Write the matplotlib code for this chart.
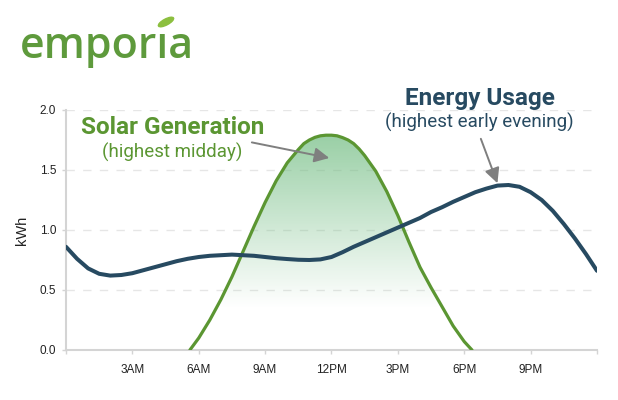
import numpy as np
import matplotlib
matplotlib.use("Agg")
import matplotlib.pyplot as plt
from matplotlib.patches import Ellipse, Polygon
from matplotlib.colors import LinearSegmentedColormap
from matplotlib.transforms import IdentityTransform

# energy usage, read every half hour (kWh)
usage_hours = np.arange(0, 24.5, 0.5)
usage = [0.86, 0.76, 0.68, 0.635, 0.62, 0.625, 0.64, 0.665, 0.69, 0.715,
         0.74, 0.76, 0.775, 0.785, 0.79, 0.795, 0.79, 0.785, 0.775, 0.765,
         0.758, 0.752, 0.75, 0.755, 0.775, 0.815, 0.86, 0.90, 0.94, 0.98,
         1.02, 1.06, 1.10, 1.15, 1.19, 1.235, 1.275, 1.315, 1.345, 1.37,
         1.375, 1.36, 1.315, 1.25, 1.16, 1.05, 0.93, 0.80, 0.66]

# solar generation (kWh)
solar_hours = [5.6, 6.0, 6.5, 7.0, 7.5, 8.0, 8.5, 9.0, 9.5, 10.0, 10.5, 10.75,
               11.0, 11.25, 11.5, 11.75, 12.0, 12.25, 12.5, 12.75, 13.0, 13.25,
               13.5, 14.0, 14.5, 15.0, 15.5, 16.0, 16.5, 17.0, 17.5, 18.0, 18.35]
solar = [0.0, 0.10, 0.25, 0.42, 0.61, 0.82, 1.03, 1.23, 1.41, 1.56, 1.67, 1.72,
         1.75, 1.772, 1.785, 1.79, 1.79, 1.785, 1.77, 1.75, 1.72, 1.675,
         1.62, 1.49, 1.32, 1.12, 0.90, 0.69, 0.52, 0.36, 0.20, 0.07, 0.0]

tick_hours = [0, 3, 6, 9, 12, 15, 18, 21, 24]
tick_labels = ["", "3AM", "6AM", "9AM", "12PM", "3PM", "6PM", "9PM", ""]

GREEN = "#5b9632"
NAVY = "#274a61"
GREY = "#d4d4d4"

fig = plt.figure(figsize=(6.18, 4.0), dpi=100)
ax = fig.add_axes([66 / 618, 50 / 400, 531 / 618, 240 / 400])

# gradient fill under the solar curve
cmap = LinearSegmentedColormap.from_list(
    "fade", [(0.47, 0.75, 0.53, 0.0), (0.47, 0.75, 0.53, 0.75)])
grad = np.clip((np.linspace(0, 1.8, 200) - 0.35) / 1.45, 0, 1).reshape(-1, 1)
img = ax.imshow(grad, cmap=cmap, vmin=0, vmax=1, origin="lower",
                extent=[solar_hours[0], solar_hours[-1], 0, 1.8],
                aspect="auto", zorder=1)
clip = Polygon(np.column_stack([solar_hours, solar]), closed=True,
               transform=ax.transData, facecolor="none", edgecolor="none")
ax.add_patch(clip)
img.set_clip_path(clip)

ax.plot(solar_hours, solar, color=GREEN, lw=2.3, zorder=3,
        solid_capstyle="round", solid_joinstyle="round")
ax.plot(usage_hours, usage, color=NAVY, lw=2.9, zorder=4,
        solid_capstyle="round", solid_joinstyle="round")

ax.set_xlim(0, 24)
ax.set_ylim(0, 2.0)
ax.set_xticks(tick_hours)
ax.set_xticklabels(tick_labels, fontsize=8.5, family="Liberation Sans",
                   color="#222222")
ax.set_yticks([0, 0.5, 1.0, 1.5, 2.0])
ax.set_yticklabels(["0.0", "0.5", "1.0", "1.5", "2.0"], fontsize=8.5,
                   family="Liberation Sans", color="#222222")
ax.tick_params(axis="both", length=3, width=1, color=GREY, pad=4)
ax.tick_params(axis="x", pad=7)
ax.set_ylabel("kWh", fontsize=10.5, family="Liberation Sans", color="#222222",
              labelpad=8)
for s in ["top", "right"]:
    ax.spines[s].set_visible(False)
for s in ["left", "bottom"]:
    ax.spines[s].set_color(GREY)
    ax.spines[s].set_linewidth(1.5)
ax.set_axisbelow(True)
ax.yaxis.grid(True, color="#e6e6e6", lw=1, dashes=(6, 6))
ax.patch.set_alpha(0)

# annotations
ax.text(4.8, 1.855, "Solar Generation", fontsize=17.5, fontweight="bold",
        family="Roboto", color=GREEN, ha="center", va="center")
ax.text(4.8, 1.65, "(highest midday)", fontsize=13.5, family="Roboto",
        color=GREEN, ha="center", va="center")
ax.text(18.7, 2.1, "Energy Usage", fontsize=17.5, fontweight="bold",
        family="Roboto", color=NAVY, ha="center", va="center")
ax.text(18.7, 1.9, "(highest early evening)", fontsize=13.5, family="Roboto",
        color=NAVY, ha="center", va="center")
arrow = dict(arrowstyle="-|>,head_length=0.9,head_width=0.45", color="#7f7f7f",
             lw=1.4, shrinkA=0, shrinkB=0)
ax.annotate("", xy=(11.9, 1.6), xytext=(8.4, 1.73), arrowprops=arrow,
            zorder=6)
ax.annotate("", xy=(19.5, 1.39), xytext=(18.75, 1.76), arrowprops=arrow,
            zorder=6)

# logo
fig.text(20 / 618, 1 - 58 / 400, "empor\u0131a", fontsize=31, family="Open Sans",
         fontweight="semibold", color="#5e9a3c", ha="left", va="baseline")
fig.add_artist(Ellipse((166, 378), 17, 6, angle=28, color="#8cbf3f",
                       transform=IdentityTransform()))

fig.savefig("out.png", dpi=100)
